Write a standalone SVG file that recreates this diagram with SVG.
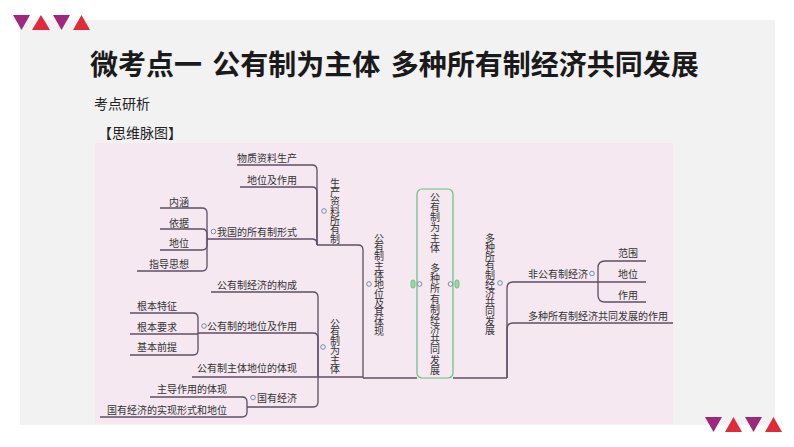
<svg xmlns="http://www.w3.org/2000/svg" width="794" height="447" viewBox="0 0 794 447">
<style>
.lbl{font-family:"Noto Sans CJK SC","Noto Sans",sans-serif;font-size:10px;fill:#333}
.vt{font-family:"Noto Sans CJK SC","Noto Sans",sans-serif;font-size:10px;fill:#333;writing-mode:vertical-rl;text-orientation:upright;letter-spacing:-0.7px}
.ln{fill:none;stroke:#5e4f63;stroke-width:1.3}
.dot{fill:#eef0f6;stroke:#7d8aa3;stroke-width:1}
.pill{fill:#9bd8a8;stroke:#5cb870;stroke-width:0.8}
.tri1{fill:#a0287c}
.tri2{fill:#e02a3a}
</style>
<rect x="0" y="0" width="794" height="447" fill="#ffffff"/>
<rect x="20" y="20" width="755" height="405" fill="#f2f2f2"/>
<g id="decor-top">
<polygon class="tri1" points="13,15 30,15 21.5,30"/>
<polygon class="tri2" points="32,30 50,30 41,15"/>
<polygon class="tri1" points="53,15 70,15 61.5,30"/>
<polygon class="tri2" points="73,30 90,30 81.5,15"/>
</g>
<g id="decor-bottom">
<polygon class="tri1" points="705,417 722,417 713.5,432"/>
<polygon class="tri2" points="725,432 742,432 733.5,417"/>
<polygon class="tri1" points="745,417 762,417 753.5,432"/>
<polygon class="tri2" points="765,432 782,432 773.5,417"/>
</g>
<text id="title" x="90" y="75" font-family="'Noto Sans CJK SC','Noto Sans',sans-serif" font-size="28" font-weight="bold" fill="#1a1a1a" word-spacing="4">微考点一 公有制为主体 多种所有制经济共同发展</text>
<text id="subtitle" x="94" y="109" font-family="'Noto Sans CJK SC','Noto Sans',sans-serif" font-size="14" fill="#222">考点研析</text>
<text id="section" x="98" y="138" font-family="'Noto Sans CJK SC','Noto Sans',sans-serif" font-size="14" fill="#222">【思维脉图】</text>
<rect id="map-bg" x="95" y="143" width="578" height="281" fill="#f5e8f1"/>

<g id="connectors">
<path class="ln" d="M160,208 H202 Q207,208 207,213 V239"/>
<path class="ln" d="M160,229 H202 Q207,229 207,234 V239"/>
<path class="ln" d="M160,250 H202 Q207,250 207,245 V239"/>
<path class="ln" d="M137,271 H202 Q207,271 207,266 V239"/>
<path class="ln" d="M207,239 H312 Q317,239 317,244 V245"/>
<path class="ln" d="M237,165 H312 Q317,165 317,170 V245"/>
<path class="ln" d="M240,187 H312 Q317,187 317,192 V245"/>
<path class="ln" d="M317,245 H358 Q363,245 363,250 V378"/>
<path class="ln" d="M130,313 H193 Q198,313 198,318 V333"/>
<path class="ln" d="M130,334 H198"/>
<path class="ln" d="M130,355 H193 Q198,355 198,350 V333"/>
<path class="ln" d="M198,333 H313 Q318,333 318,338 V377"/>
<path class="ln" d="M211,292 H313 Q318,292 318,297 V377"/>
<path class="ln" d="M192,377 H318"/>
<path class="ln" d="M150,397 H242 Q247,397 247,402 V407"/>
<path class="ln" d="M100,417 H242 Q247,417 247,412 V407"/>
<path class="ln" d="M247,407 H313 Q318,407 318,402 V377"/>
<path class="ln" d="M318,377 H363"/>
<path class="ln" d="M363,378 H417"/>
<path class="ln" d="M453,378 H507"/>
<path class="ln" d="M507,378 V288 Q507,282 513,282 H598"/>
<path class="ln" d="M507,378 V329 Q507,323 513,323 H673"/>
<path class="ln" d="M598,282 V268 Q598,261 605,261 H646"/>
<path class="ln" d="M598,282 H646"/>
<path class="ln" d="M598,282 V295 Q598,302 605,302 H646"/>
</g>

<g id="root">
<rect x="417" y="189" width="36" height="189" rx="5" fill="#f5e8f1" stroke="#62c083" stroke-width="1.2"/>
<text class="vt" x="435" y="192" style="letter-spacing:0.18px">公有制为主体 多种所有制经济共同发展</text>
<rect class="pill" x="411" y="280" width="4" height="8" rx="2"/>
<circle class="dot" cx="419.5" cy="284" r="2.3"/>
<rect class="pill" x="455" y="280" width="4" height="8" rx="2"/>
<circle class="dot" cx="450.5" cy="284" r="2.3"/>
</g>
<g id="n-gyzztdw">
<text class="vt" x="379" y="233">公有制主体地位及其体现</text>
<circle class="dot" cx="369" cy="284" r="2.3"/>
</g>
<g id="n-scylsyz">
<text class="vt" x="335" y="178" style="letter-spacing:-0.67px">生产资料所有制</text>
<circle class="dot" cx="324" cy="211" r="2.3"/>
</g>
<g id="n-wzzlsc"><text class="lbl" x="297" y="162" text-anchor="end">物质资料生产</text></g>
<g id="n-dwjzy"><text class="lbl" x="297" y="184" text-anchor="end">地位及作用</text></g>
<g id="n-wgdsyzxs">
<text class="lbl" x="297" y="235.5" text-anchor="end">我国的所有制形式</text>
<circle class="dot" cx="213.5" cy="231.5" r="2.3"/>
</g>
<g id="n-nh"><text class="lbl" x="189" y="205.5" text-anchor="end">内涵</text></g>
<g id="n-yj"><text class="lbl" x="189" y="226.5" text-anchor="end">依据</text></g>
<g id="n-dw1"><text class="lbl" x="189" y="247" text-anchor="end">地位</text></g>
<g id="n-zdsx"><text class="lbl" x="189" y="267.5" text-anchor="end">指导思想</text></g>
<g id="n-gyzwzt">
<text class="vt" x="335" y="318" style="letter-spacing:-0.8px">公有制为主体</text>
<circle class="dot" cx="323" cy="347" r="2.3"/>
</g>
<g id="n-gyzjjdgc"><text class="lbl" x="297" y="288.5" text-anchor="end">公有制经济的构成</text></g>
<g id="n-gyzdwjzy">
<text class="lbl" x="297" y="329.5" text-anchor="end">公有制的地位及作用</text>
<circle class="dot" cx="204" cy="326" r="2.3"/>
</g>
<g id="n-gbtz"><text class="lbl" x="177" y="309.5" text-anchor="end">根本特征</text></g>
<g id="n-gbyq"><text class="lbl" x="177" y="330.5" text-anchor="end">根本要求</text></g>
<g id="n-jbqt"><text class="lbl" x="177" y="350.5" text-anchor="end">基本前提</text></g>
<g id="n-gyzztdwdtx"><text class="lbl" x="297" y="371.5" text-anchor="end">公有制主体地位的体现</text></g>
<g id="n-gyjj">
<text class="lbl" x="297" y="401.5" text-anchor="end">国有经济</text>
<circle class="dot" cx="253" cy="397.5" r="2.3"/>
</g>
<g id="n-zdzydtx"><text class="lbl" x="227" y="392.5" text-anchor="end">主导作用的体现</text></g>
<g id="n-gyjjsxxs"><text class="lbl" x="227" y="413.5" text-anchor="end">国有经济的实现形式和地位</text></g>
<g id="n-dzsyzjj">
<text class="vt" x="490" y="233" style="letter-spacing:-0.8px">多种所有制经济共同发展</text>
<circle class="dot" cx="500" cy="283" r="2.3"/>
</g>
<g id="n-fgyzjj">
<text class="lbl" x="528" y="277.5">非公有制经济</text>
<circle class="dot" cx="592" cy="273.5" r="2.3"/>
</g>
<g id="n-fw"><text class="lbl" x="628" y="256.5" text-anchor="middle">范围</text></g>
<g id="n-dw2"><text class="lbl" x="628" y="277.5" text-anchor="middle">地位</text></g>
<g id="n-zy"><text class="lbl" x="628" y="298.5" text-anchor="middle">作用</text></g>
<g id="n-dzzydzy"><text class="lbl" x="528" y="319.5">多种所有制经济共同发展的作用</text></g>
</svg>
